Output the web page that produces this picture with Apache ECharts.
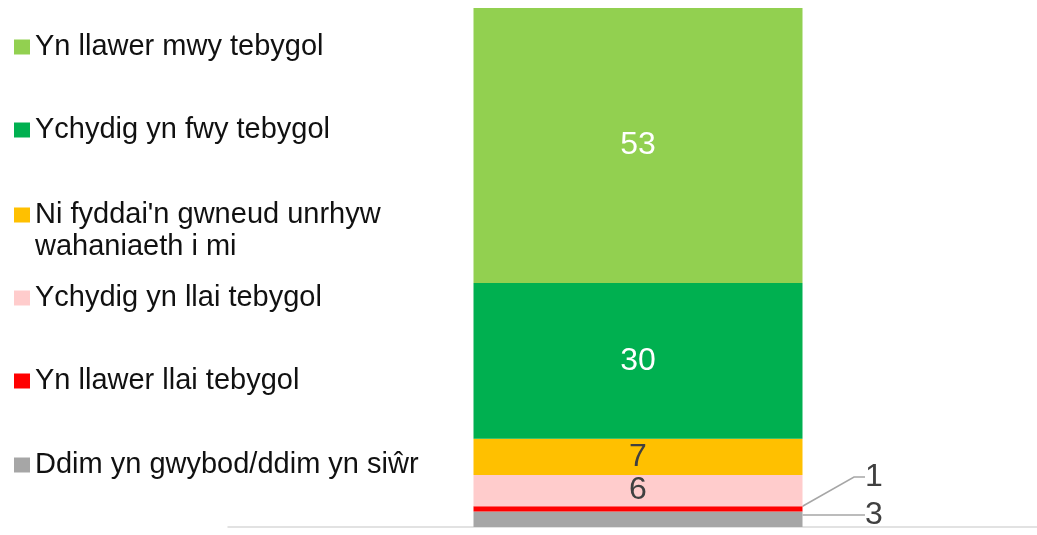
<!DOCTYPE html>
<html>
<head>
<meta charset="utf-8">
<script src="https://cdn.jsdelivr.net/npm/echarts@6/dist/echarts.min.js"></script>
<style>
  html, body { margin: 0; padding: 0; background: #fff; }
  #chart { width: 1037px; height: 535px; }
</style>
</head>
<body>
<div id="chart"></div>
<script>
// legend order (top to bottom)
const names = [
  'Yn llawer mwy tebygol',
  'Ychydig yn fwy tebygol',
  "Ni fyddai'n gwneud unrhyw wahaniaeth i mi",
  'Ychydig yn llai tebygol',
  'Yn llawer llai tebygol',
  'Ddim yn gwybod/ddim yn siŵr'
];
const values = [53, 30, 7, 6, 1, 3];
const colors = ['#92D050', '#00B050', '#FFC000', '#FFCCCC', '#FF0000', '#A6A6A6'];
const categories = [''];

const font = '"Liberation Sans", Arial, sans-serif';

// one legend per item so they sit at fixed rows
const legendRows = [47, 130, 215, 298, 381, 465];
const legends = names.map((n, i) => {
  const lg = {
    data: [n],
    left: 14,
    top: legendRows[i] - 16,
    padding: 0,
    itemWidth: 16,
    itemHeight: 15,
    icon: 'rect',
    selectedMode: false,
    textStyle: { fontFamily: font, fontSize: 29, color: '#111', lineHeight: 32 }
  };
  if (i === 2) {
    // two-line label: square stays next to the first line
    lg.formatter = () => "Ni fyddai'n gwneud unrhyw\nwahaniaeth i mi";
    lg.icon = 'path://M0,0H16V15H0Z M0,46.9H0.1V47H0Z';
    lg.itemHeight = 47;
  }
  return lg;
});

// stacking goes bottom up, so walk the list backwards
const series = [];
for (let i = names.length - 1; i >= 0; i--) {
  const s = {
    name: names[i],
    type: 'bar',
    stack: 'total',
    barWidth: 329,
    data: [values[i]],
    itemStyle: { color: colors[i] },
    label: {
      show: true,
      position: 'inside',
      fontFamily: font,
      fontSize: 32,
      color: i < 2 ? '#fff' : '#404040'
    }
  };
  if (i === 4 || i === 5) {
    s.label.position = 'right';
    s.label.padding = [0, 0, 0, 7];
    s.labelLayout = {
      x: 858,
      y: i === 4 ? 477 : 515,
      align: 'left',
      verticalAlign: 'middle'
    };
    s.labelLine = { show: true, length2: 11, lineStyle: { color: '#A6A6A6', width: 1.5 } };
  }
  series.push(s);
}

const chart = echarts.init(document.getElementById('chart'));
chart.setOption({
  animation: false,
  backgroundColor: '#fff',
  legend: legends,
  grid: { left: 228, width: 820, top: 8, bottom: 8, outerBoundsMode: 'none' },
  xAxis: {
    type: 'category',
    data: categories,
    axisLine: { lineStyle: { color: '#D9D9D9', width: 1.5 } },
    axisTick: { show: false },
    axisLabel: { show: false }
  },
  yAxis: {
    type: 'value',
    min: 0,
    max: 100,
    show: false
  },
  series: series
});
</script>
</body>
</html>
